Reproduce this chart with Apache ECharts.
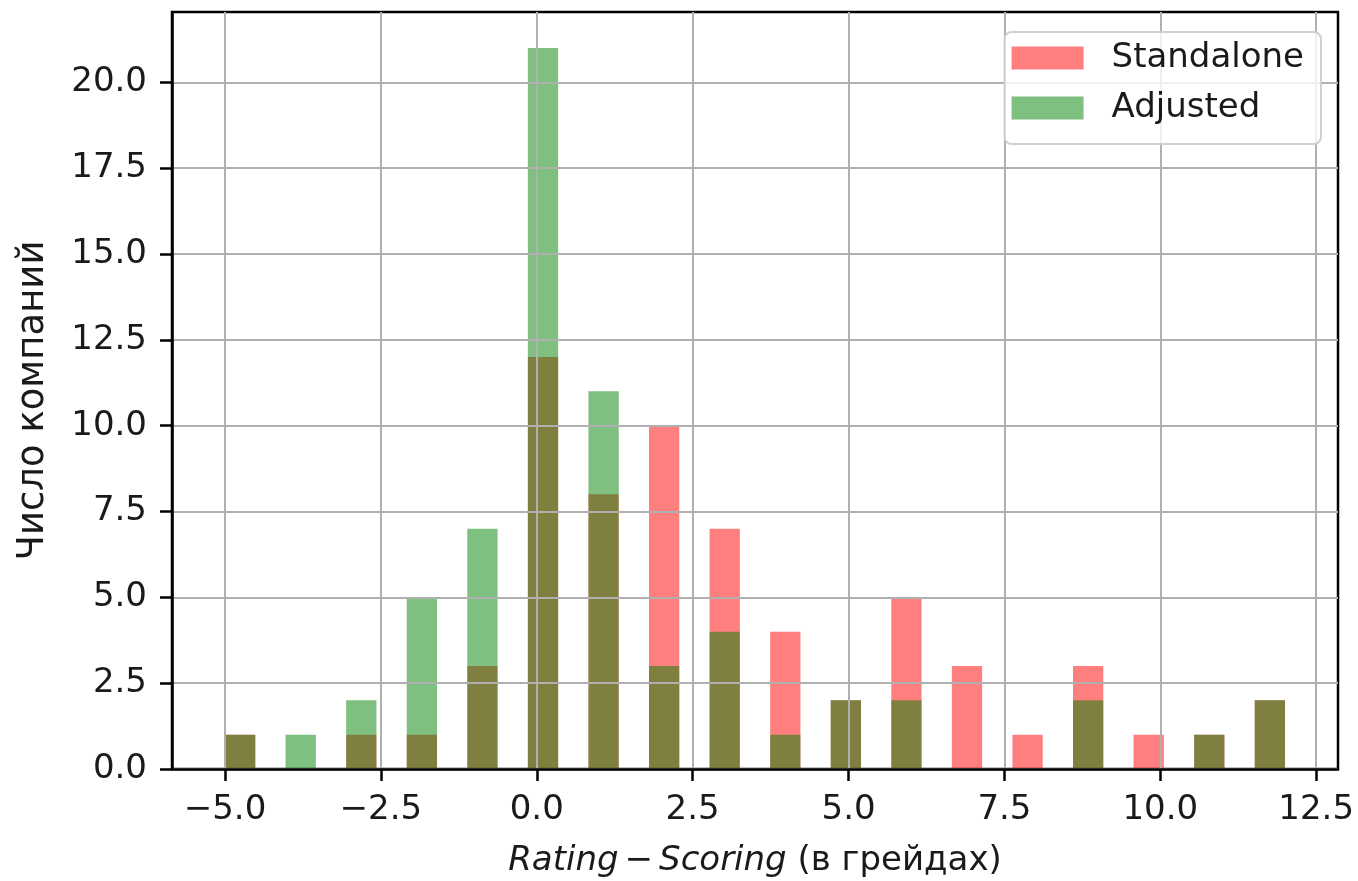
<!DOCTYPE html>
<html>
<head>
<meta charset="utf-8">
<script src="https://cdn.jsdelivr.net/npm/echarts@6/dist/echarts.min.js"></script>
<style>
html,body{margin:0;padding:0;background:#fff;}
#chart{width:1358px;height:881px;}
</style>
</head>
<body>
<div id="chart"></div>
<script>
// ---- data ----
const seriesNames = ['Standalone', 'Adjusted'];
const diffValues = [-5, -4, -3, -2, -1, 0, 1, 2, 3, 4, 5, 6, 7, 8, 9, 10, 11, 12];
const standaloneCounts = [1, 0, 1, 1, 3, 12, 8, 10, 7, 4, 2, 5, 3, 1, 3, 1, 1, 2];
const adjustedCounts   = [1, 1, 2, 5, 7, 21, 11, 3, 4, 1, 2, 2, 0, 0, 2, 0, 1, 2];
const binCount = 35;
const binRange = [-5, 12];
const xTicks = [-5, -2.5, 0, 2.5, 5, 7.5, 10, 12.5];
const yTicks = [0, 2.5, 5, 7.5, 10, 12.5, 15, 17.5, 20];
const xRange = [-5.85, 12.85];
const yRange = [0, 22.05];

// ---- histogram binning (like matplotlib hist, bins=35) ----
function histogram(values, counts) {
  const w = (binRange[1] - binRange[0]) / binCount;
  const bins = [];
  for (let i = 0; i < binCount; i++) bins.push([binRange[0] + i * w, binRange[0] + (i + 1) * w, 0]);
  values.forEach((v, k) => {
    let idx = Math.floor((v - binRange[0]) / w + 1e-9);
    if (idx >= binCount) idx = binCount - 1;
    bins[idx][2] += counts[k];
  });
  return bins.filter(b => b[2] > 0);
}

const colors = ['rgba(255,0,0,0.5)', 'rgba(0,128,0,0.5)'];
const FONT = 'DejaVu Sans';
const TXT = '#1a1a1a';

function renderBar(params, api) {
  const p0 = api.coord([api.value(0), api.value(2)]);
  const p1 = api.coord([api.value(1), 0]);
  return {
    type: 'rect',
    shape: { x: p0[0], y: p0[1], width: p1[0] - p0[0], height: p1[1] - p0[1] },
    style: { fill: api.visual('color') }
  };
}

const fmtNum = v => v.toFixed(1).replace('-', '\u2212');

const chart = echarts.init(document.getElementById('chart'), null, { renderer: 'canvas' });
chart.setOption({
  animation: false,
  backgroundColor: '#fff',
  grid: {
    left: 172, top: 12, right: 20, bottom: 112,
    show: true, borderColor: '#000', borderWidth: 2.5, backgroundColor: 'transparent',
    outerBoundsMode: 'none'
  },
  legend: {
    orient: 'vertical',
    right: 37, top: 32,
    data: seriesNames,
    icon: 'rect',
    itemWidth: 72, itemHeight: 23, itemGap: 16,
    padding: [9, 17, 19, 7],
    backgroundColor: 'rgba(255,255,255,0.8)',
    borderColor: 'rgba(204,204,204,0.9)', borderWidth: 2, borderRadius: 7,
    textStyle: { fontFamily: FONT, fontSize: 34, color: TXT, padding: [0, 0, 0, 23] },
    z: 10
  },
  xAxis: {
    type: 'value', min: xRange[0], max: xRange[1], z: 3,
    axisLine: { show: true, onZero: false, lineStyle: { color: '#000', width: 2.5 } },
    axisTick: { show: true, length: 12, customValues: xTicks, lineStyle: { color: '#000', width: 2.5 } },
    axisLabel: { customValues: xTicks, formatter: fmtNum, fontFamily: FONT, fontSize: 34, color: TXT, margin: 24 },
    splitLine: { show: true, lineStyle: { color: '#b0b0b0', width: 2 } },
    name: '{i|Rating}{m|\u2212}{i|Scoring} {n|(в грейдах)}',
    nameLocation: 'middle', nameGap: 75, nameMoveOverlap: false,
    nameTextStyle: {
      fontFamily: FONT, fontSize: 34, color: TXT,
      rich: {
        i: { fontFamily: FONT, fontSize: 34, fontStyle: 'italic', color: TXT },
        m: { fontFamily: FONT, fontSize: 34, color: TXT, padding: [0, 6, 0, 6] },
        n: { fontFamily: FONT, fontSize: 34, color: TXT }
      }
    }
  },
  yAxis: {
    type: 'value', min: yRange[0], max: yRange[1], z: 3,
    axisLine: { show: true, onZero: false, lineStyle: { color: '#000', width: 2.5 } },
    axisTick: { show: true, length: 12, customValues: yTicks, lineStyle: { color: '#000', width: 2.5 } },
    axisLabel: { customValues: yTicks, formatter: fmtNum, fontFamily: FONT, fontSize: 34, color: TXT, margin: 25 },
    splitLine: { show: true, lineStyle: { color: '#b0b0b0', width: 2 } },
    name: 'Число компаний', nameLocation: 'middle', nameGap: 120, nameRotate: 90, nameMoveOverlap: false,
    nameTextStyle: { fontFamily: FONT, fontSize: 37, color: TXT, padding: [0, 20, 0, 0] }
  },
  series: [
    {
      name: seriesNames[0], type: 'custom', renderItem: renderBar,
      itemStyle: { color: colors[0] },
      encode: { x: [0, 1], y: 2 },
      data: histogram(diffValues, standaloneCounts), z: 1
    },
    {
      name: seriesNames[1], type: 'custom', renderItem: renderBar,
      itemStyle: { color: colors[1] },
      encode: { x: [0, 1], y: 2 },
      data: histogram(diffValues, adjustedCounts), z: 2
    }
  ]
});
</script>
</body>
</html>
